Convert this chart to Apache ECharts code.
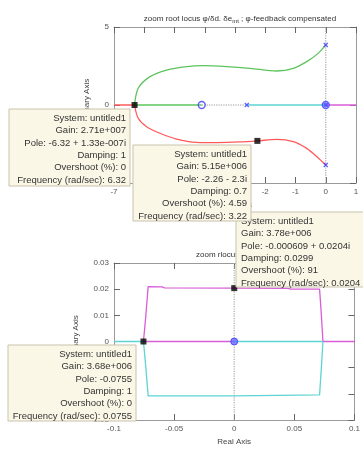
<!DOCTYPE html>
<html>
<head>
<meta charset="utf-8">
<script src="https://cdn.jsdelivr.net/npm/echarts@6/dist/echarts.min.js"></script>
<style>
  html, body { margin: 0; padding: 0; background: #fff; }
  #chart { width: 363px; height: 449px; }
</style>
</head>
<body>
<div id="chart"></div>
<script>
// ---- top plot: root locus, full view ----
const topRedReal = [[-7, 0], [-6.32, 0]];
const topRedBranch = [[-6.32, 0], [-6.2, -0.85], [-5.92, -1.39], [-5.48, -1.81], [-4.93, -2.18], [-4.27, -2.39],
  [-3.6, -2.41], [-2.83, -2.37], [-2.26, -2.3], [-1.62, -2.2], [-1.07, -2.35], [-0.63, -2.78], [-0.3, -3.3], [0, -3.85]];
const topGreenBranch = [[-6.32, 0], [-6.2, 1.07], [-5.81, 1.82], [-5.26, 2.24], [-4.6, 2.46], [-4.05, 2.52],
  [-3.27, 2.46], [-2.5, 2.35], [-1.62, 2.18], [-1.07, 2.35], [-0.63, 2.78], [-0.25, 3.31], [0, 3.85]];
const topGreenReal = [[-6.32, 0], [-4.1, 0]];
const topDottedReal = [[-4.1, 0], [-2.61, 0]];
const topCyanReal = [[-2.61, 0], [0, 0]];
const topMagentaReal = [[0, 0], [1, 0]];
const topZeros = [[-4.1, 0], [0, 0]];
const topPoles = [[-2.61, 0], [0, 3.85], [0, -3.85], [0, 0]];
const topTips = [[-6.32, 0], [-2.26, -2.3]];

// ---- bottom plot: zoom near origin ----
const botCyanLeft = [[-0.1, 0], [-0.0755, 0]];
const botMagentaMid = [[-0.0755, 0], [0, 0]];
const botCyanMid = [[0, 0], [0.0738, 0]];
const botMagentaRight = [[0.0738, 0], [0.1, 0]];
const botMagentaBox = [[-0.0755, 0], [-0.0735, 0.01], [-0.0716, 0.021], [-0.06, 0.0209], [-0.058, 0.0205],
  [0, 0.0204], [0.045, 0.0203], [0.047, 0.02], [0.071, 0.02], [0.0725, 0.01], [0.0738, 0]];
const botCyanBox = [[-0.0755, 0], [-0.0735, -0.01], [-0.0716, -0.0208], [0, -0.0208], [0, -0.0204],
  [0.071, -0.0204], [0.0725, -0.01], [0.0738, 0]];
const botZeros = [[0, 0]];
const botTips = [[-0.0755, 0], [0, 0.0204]];

// data tip texts
const tip1 = ['System: untitled1', 'Gain: 2.71e+007', 'Pole: -6.32 + 1.33e-007i', 'Damping: 1', 'Overshoot (%): 0', 'Frequency (rad/sec): 6.32'];
const tip2 = ['System: untitled1', 'Gain: 5.15e+006', 'Pole: -2.26 - 2.3i', 'Damping: 0.7', 'Overshoot (%): 4.59', 'Frequency (rad/sec): 3.22'];
const tip3 = ['System: untitled1', 'Gain: 3.78e+006', 'Pole: -0.000609 + 0.0204i', 'Damping: 0.0299', 'Overshoot (%): 91', 'Frequency (rad/sec): 0.0204'];
const tip4 = ['System: untitled1', 'Gain: 3.68e+006', 'Pole: -0.0755', 'Damping: 1', 'Overshoot (%): 0', 'Frequency (rad/sec): 0.0755'];

const FONT = '"Liberation Sans", Arial, sans-serif';
const C = {
  red: '#ff5a5a', green: '#5cc45c', cyan: '#5ed4d4', magenta: '#d85ed8',
  blue: '#3a3aff', frame: '#9a9a9a', tick: '#666', label: '#555',
  tipBg: '#fbf7e7', tipBorder: '#c9c2ad'
};

const line = (data, color, xi, extra) => Object.assign({
  type: 'line', data: data, xAxisIndex: xi, yAxisIndex: xi,
  symbol: 'none', lineStyle: { color: color, width: 1.3 }, silent: true, z: 3, animation: false
}, extra || {});

const crossSymbol = 'path://M0,0L10,10M10,0L0,10';

// fresh tick object per axis; longer ticks so they clear the frame line
const tickStyle = () => ({ show: true, inside: true, length: 6, lineStyle: { color: C.tick, width: 1 } });

const mainX = (gi, min, max, interval, name) => ({
  type: 'value', gridIndex: gi, min: min, max: max, interval: interval, position: 'bottom',
  name: name, nameLocation: 'middle', nameGap: 18,
  nameTextStyle: { fontFamily: FONT, fontSize: 8, color: '#444' },
  axisLine: { onZero: false, lineStyle: { color: C.frame } },
  axisTick: tickStyle(),
  axisLabel: { fontFamily: FONT, fontSize: 8, color: C.label, margin: 5 },
  splitLine: { show: false }
});
const mainY = (gi, min, max, interval, gap) => ({
  type: 'value', gridIndex: gi, min: min, max: max, interval: interval, position: 'left',
  name: 'Imaginary Axis', nameLocation: 'middle', nameGap: gap, nameRotate: 90,
  nameTextStyle: { fontFamily: FONT, fontSize: 8, color: '#444' },
  axisLine: { show: true, onZero: false, lineStyle: { color: C.frame } },
  axisTick: tickStyle(),
  axisLabel: { fontFamily: FONT, fontSize: 8, color: C.label, margin: 5 },
  splitLine: { show: false }
});
const sideAxis = (gi, min, max, interval, pos) => ({
  type: 'value', gridIndex: gi, min: min, max: max, interval: interval, position: pos,
  axisLine: { show: true, onZero: false, lineStyle: { color: C.frame } },
  axisTick: tickStyle(),
  axisLabel: { show: false }, splitLine: { show: false }
});

const tipGroup = (x, y, w, h, lines, align, z) => ({
  type: 'group', z: z,
  children: [
    { type: 'rect', shape: { x: x, y: y, width: w, height: h },
      style: { fill: C.tipBg, stroke: C.tipBorder, lineWidth: 1 }, z: z },
    { type: 'text', z: z + 1,
      x: align === 'right' ? x + w - 4 : x + 5, y: y + 3,
      style: { text: lines.join('\n'), font: '9.5px ' + FONT, fill: '#333',
        textAlign: align, textVerticalAlign: 'top', lineHeight: 12.4 } }
  ]
});

const option = {
  animation: false,
  backgroundColor: '#fff',
  title: [
    { text: 'zoom root locus φ/δd. δe{sub|mt} ; φ-feedback compensated', left: 235, top: 9, textAlign: 'center',
      textStyle: { fontFamily: FONT, fontSize: 8, fontWeight: 'normal', color: '#333',
        rich: { sub: { fontSize: 6, verticalAlign: 'bottom', padding: [4, 0, 0, 0], fontFamily: FONT, color: '#333' } } } },
    { text: 'zoom rlocus φ/δd. δe{sub|mt} ; φ-feedback compensated', left: 191, top: 245,
      textStyle: { fontFamily: FONT, fontSize: 8, fontWeight: 'normal', color: '#333',
        rich: { sub: { fontSize: 6, verticalAlign: 'bottom', padding: [4, 0, 0, 0], fontFamily: FONT, color: '#333' } } } }
  ],
  grid: [
    { left: 114, top: 27, width: 242, height: 156 },
    { left: 114, top: 263, width: 243, height: 157 }
  ],
  xAxis: [
    mainX(0, -7, 1, 1, 'Real Axis'),
    mainX(1, -0.1, 0.1, 0.05, 'Real Axis'),
    sideAxis(0, -7, 1, 1, 'top'),
    sideAxis(1, -0.1, 0.1, 0.05, 'top')
  ],
  yAxis: [
    mainY(0, -5, 5, 5, 22),
    mainY(1, -0.03, 0.03, 0.01, 33),
    sideAxis(0, -5, 5, 5, 'right'),
    sideAxis(1, -0.03, 0.03, 0.01, 'right')
  ],
  series: [
    // top plot
    line([[0, -5], [0, 5]], '#aaa', 0, { lineStyle: { color: '#aaa', width: 1.2, type: 'dotted' }, z: 2 }),
    line(topRedReal, C.red, 0),
    line(topRedBranch, C.red, 0, { smooth: 0.3 }),
    line(topGreenBranch, C.green, 0, { smooth: 0.3 }),
    line(topGreenReal, C.green, 0),
    line(topDottedReal, '#999', 0, { lineStyle: { color: '#999', width: 1.2, type: 'dotted' } }),
    line(topCyanReal, C.cyan, 0),
    line(topMagentaReal, C.magenta, 0),
    { type: 'scatter', data: topZeros, xAxisIndex: 0, yAxisIndex: 0, symbol: 'circle', symbolSize: 7, z: 5,
      itemStyle: { color: 'rgba(255,255,255,0)', borderColor: C.blue, borderWidth: 1.3 }, silent: true },
    { type: 'scatter', data: topPoles, xAxisIndex: 0, yAxisIndex: 0, symbol: crossSymbol, symbolSize: 4, z: 5,
      itemStyle: { color: 'none', borderColor: C.blue, borderWidth: 1.3 }, silent: true },
    { type: 'scatter', data: [[0, 0]], xAxisIndex: 0, yAxisIndex: 0, symbol: 'circle', symbolSize: 5, z: 5,
      itemStyle: { color: '#5a5aff' }, silent: true },
    { type: 'scatter', data: topTips, xAxisIndex: 0, yAxisIndex: 0, symbol: 'rect', symbolSize: 6, z: 6,
      itemStyle: { color: '#000' }, silent: true },
    // bottom plot
    line([[0, -0.03], [0, 0.03]], '#aaa', 1, { lineStyle: { color: '#aaa', width: 1.2, type: 'dotted' }, z: 2 }),
    line(botCyanLeft, C.cyan, 1),
    line(botMagentaMid, C.magenta, 1),
    line(botCyanMid, C.cyan, 1),
    line(botMagentaRight, C.magenta, 1),
    line(botMagentaBox, C.magenta, 1),
    line(botCyanBox, C.cyan, 1),
    { type: 'scatter', data: botZeros, xAxisIndex: 1, yAxisIndex: 1, symbol: 'circle', symbolSize: 7, z: 5,
      itemStyle: { color: '#6a6aff', borderColor: C.blue, borderWidth: 1 }, silent: true },
    { type: 'scatter', data: botTips, xAxisIndex: 1, yAxisIndex: 1, symbol: 'rect', symbolSize: 6, z: 6,
      itemStyle: { color: '#000' }, silent: true }
  ],
  graphic: [
    tipGroup(236, 212, 140, 75, tip3, 'left', 100),
    tipGroup(9, 109, 121, 77, tip1, 'right', 110),
    tipGroup(133, 145, 118, 76, tip2, 'right', 120),
    tipGroup(8, 345, 128, 76, tip4, 'right', 130)
  ]
};

const chart = echarts.init(document.getElementById('chart'), null, { renderer: 'canvas' });
chart.setOption(option);
</script>
</body>
</html>
